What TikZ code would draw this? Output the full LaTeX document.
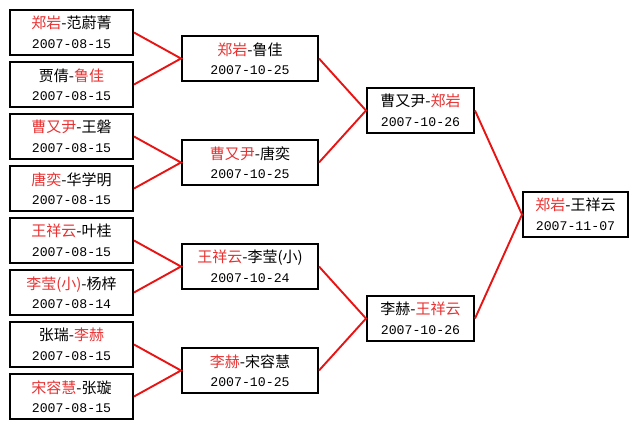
\documentclass[tikz,border=0pt]{standalone}
\usepackage{fontspec}
\setmainfont{Noto Sans CJK SC}
\newfontfamily\datefont{Liberation Mono}

\definecolor{linkred}{RGB}{232,20,20}
\definecolor{namered}{RGB}{232,50,50}

\newcommand{\win}[1]{\textcolor{namered}{#1}}
\newcommand{\playdate}[1]{{\datefont\fontsize{13.2}{19}\selectfont #1}}

\begin{document}
\begin{tikzpicture}[x=1pt,y=-1pt,
   match/.style={draw=black,line width=2pt,fill=white,inner sep=0pt,
     align=center,minimum height=45pt,
     font=\fontsize{15}{19.5}\selectfont},
   link/.style={linkred,line width=1.9pt}]

   \useasboundingbox (0,0) rectangle (640,429);

   % first round
   \node[match,minimum width=123pt] (a1) at (71.5,32.5) {\win{郑岩}-范蔚菁\\\playdate{2007-08-15}};
   \node[match,minimum width=123pt] (a2) at (71.5,84.5) {贾倩-\win{鲁佳}\\\playdate{2007-08-15}};
   \node[match,minimum width=123pt] (a3) at (71.5,136.5) {\win{曹又尹}-王磐\\\playdate{2007-08-15}};
   \node[match,minimum width=123pt] (a4) at (71.5,188.5) {\win{唐奕}-华学明\\\playdate{2007-08-15}};
   \node[match,minimum width=123pt] (a5) at (71.5,240.5) {\win{王祥云}-叶桂\\\playdate{2007-08-15}};
   \node[match,minimum width=123pt] (a6) at (71.5,292.5) {\win{李莹(小)}-杨梓\\\playdate{2007-08-14}};
   \node[match,minimum width=123pt] (a7) at (71.5,344.5) {张瑞-\win{李赫}\\\playdate{2007-08-15}};
   \node[match,minimum width=123pt] (a8) at (71.5,396.5) {\win{宋容慧}-张璇\\\playdate{2007-08-15}};

   % second round
   \node[match,minimum width=136pt] (b1) at (250,58.5) {\win{郑岩}-鲁佳\\\playdate{2007-10-25}};
   \node[match,minimum width=136pt] (b2) at (250,162.5) {\win{曹又尹}-唐奕\\\playdate{2007-10-25}};
   \node[match,minimum width=136pt] (b3) at (250,266.5) {\win{王祥云}-李莹(小)\\\playdate{2007-10-24}};
   \node[match,minimum width=136pt] (b4) at (250,370.5) {\win{李赫}-宋容慧\\\playdate{2007-10-25}};

   % semi-final
   \node[match,minimum width=107pt] (c1) at (420.5,110.5) {曹又尹-\win{郑岩}\\\playdate{2007-10-26}};
   \node[match,minimum width=107pt] (c2) at (420.5,318.5) {李赫-\win{王祥云}\\\playdate{2007-10-26}};

   % final
   \node[match,minimum width=105pt] (d1) at (575.5,214.5) {\win{郑岩}-王祥云\\\playdate{2007-11-07}};

   \draw[link] (a1.east) -- (b1.west) -- (a2.east);
   \draw[link] (a3.east) -- (b2.west) -- (a4.east);
   \draw[link] (a5.east) -- (b3.west) -- (a6.east);
   \draw[link] (a7.east) -- (b4.west) -- (a8.east);
   \draw[link] (b1.east) -- (c1.west) -- (b2.east);
   \draw[link] (b3.east) -- (c2.west) -- (b4.east);
   \draw[link] (c1.east) -- (d1.west) -- (c2.east);

\end{tikzpicture}
\end{document}
